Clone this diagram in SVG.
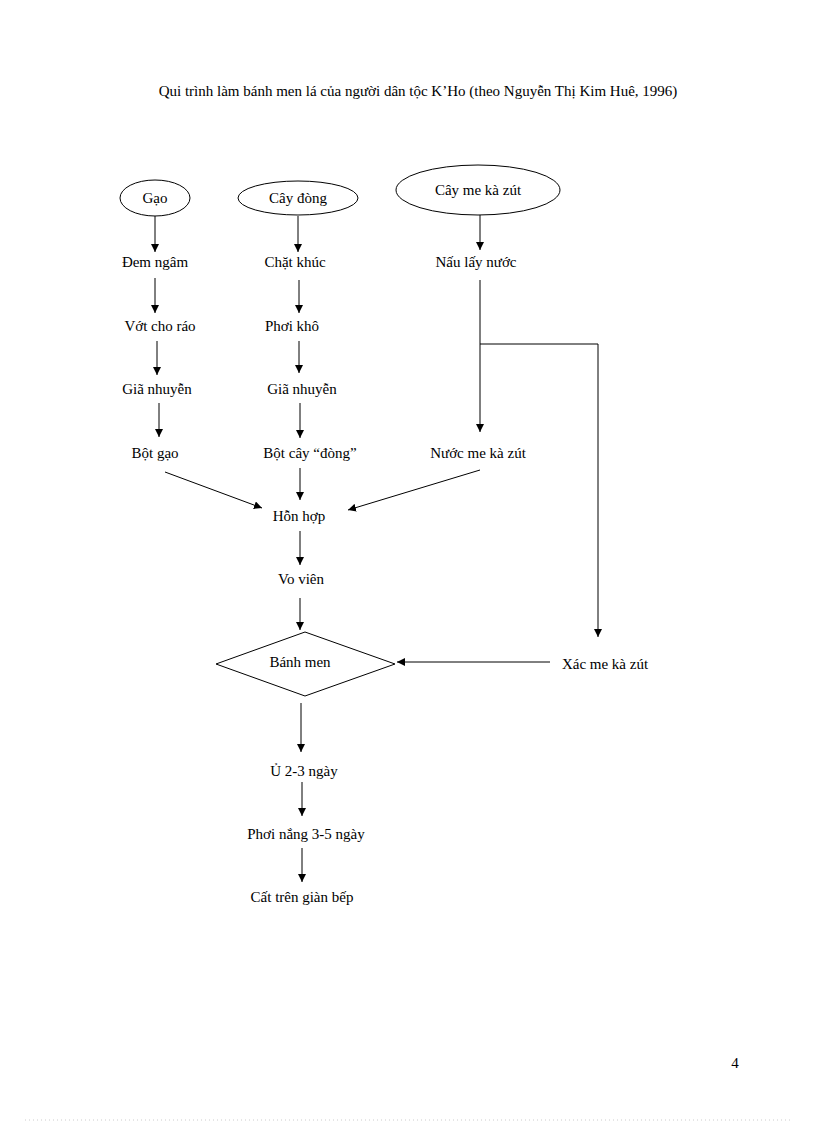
<svg xmlns="http://www.w3.org/2000/svg" width="816" height="1123" viewBox="0 0 816 1123">
<style>
text{font-family:"Liberation Serif",serif;font-size:15px;fill:#000;text-anchor:middle}
.s{fill:none;stroke:#000;stroke-width:1}
</style>
<defs><marker id="a" viewBox="0 0 10 10" refX="10" refY="5" markerWidth="8" markerHeight="8" orient="auto" markerUnits="userSpaceOnUse"><path d="M0,0L10,5L0,10z" fill="#000"/></marker></defs>
<rect width="816" height="1123" fill="#fff"/>
<text x="418" y="96">Qui trình làm bánh men lá của người dân tộc K’Ho (theo Nguyễn Thị Kim Huê, 1996)</text>
<g id="gao"><ellipse class="s" cx="155" cy="198" rx="35" ry="18"/><text x="155" y="203">Gạo</text></g>
<g id="caydong"><ellipse class="s" cx="298" cy="198" rx="60" ry="17"/><text x="298" y="203">Cây đòng</text></g>
<g id="cayme"><ellipse class="s" cx="478" cy="190" rx="82" ry="25"/><text x="478" y="195">Cây me kà zút</text></g>
<g id="n1"><text x="155" y="267">Đem ngâm</text></g>
<g id="n2"><text x="160" y="331">Vớt cho ráo</text></g>
<g id="n3"><text x="157" y="394">Giã nhuyễn</text></g>
<g id="n4"><text x="155" y="458">Bột gạo</text></g>
<g id="m1"><text x="295" y="267">Chặt khúc</text></g>
<g id="m2"><text x="292" y="331">Phơi khô</text></g>
<g id="m3"><text x="302" y="394">Giã nhuyễn</text></g>
<g id="m4"><text x="310" y="458">Bột cây “đòng”</text></g>
<g id="r1"><text x="476" y="267">Nấu lấy nước</text></g>
<g id="r2"><text x="478" y="458">Nước me kà zút</text></g>
<g id="xac"><text x="605" y="669">Xác me kà zút</text></g>
<g id="honhop"><text x="299" y="521">Hỗn hợp</text></g>
<g id="vovien"><text x="301" y="584">Vo viên</text></g>
<g id="banhmen"><path class="s" d="M305,632L395,664L305,696L216,664z"/><text x="300" y="667">Bánh men</text></g>
<g id="u"><text x="304" y="776">Ủ 2-3 ngày</text></g>
<g id="phoi"><text x="306" y="839">Phơi nắng  3-5 ngày</text></g>
<g id="cat"><text x="302" y="902">Cất trên giàn bếp</text></g>
<text x="735" y="1068">4</text>
<g id="connectors" class="s" marker-end="url(#a)">
<path d="M155,216V252"/><path d="M155,278V313"/><path d="M157,341V375"/><path d="M159,403V437"/>
<path d="M298,216V252"/><path d="M299,280V313"/><path d="M299,341V373"/><path d="M300,403V438"/>
<path d="M480,215V250"/><path d="M480,280V432"/>
<path d="M480,344H598V637"/>
<path d="M550,662H397"/>
<path d="M165,472L262,508"/><path d="M480,470L348,510"/><path d="M300,468V500"/>
<path d="M300,531V565"/><path d="M300,598V630"/>
<path d="M301,703V752"/><path d="M302,782V816"/><path d="M302,848V882"/>
</g>
<line x1="25" y1="1120" x2="790" y2="1120" stroke="#ccc" stroke-dasharray="1,3"/>
</svg>
